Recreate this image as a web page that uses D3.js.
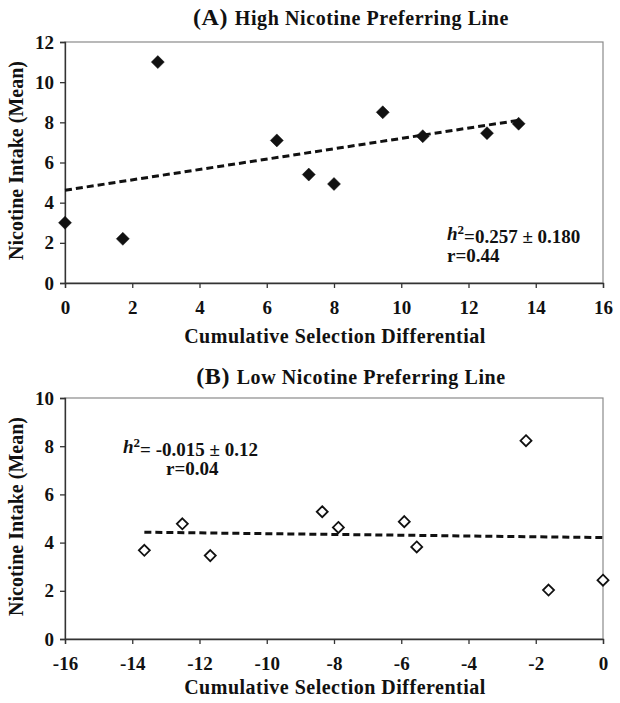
<!DOCTYPE html>
<html>
<head>
<meta charset="utf-8">
<script src="https://cdn.jsdelivr.net/npm/d3@7"></script>
<style>
  body { margin: 0; background: #fff; }
  svg text { font-family: "Liberation Serif", "Times New Roman", serif; font-weight: bold; fill: #111; }
</style>
</head>
<body>
<div id="chart"></div>
<script>
// panel A: high nicotine preferring line
const highX = [0, 1.72, 2.76, 6.3, 7.25, 8.0, 9.45, 10.64, 12.55, 13.49];
const highY = [3.0, 2.2, 11.0, 7.1, 5.4, 4.93, 8.5, 7.31, 7.46, 7.93];
const highTrendX = [0, 13.49];
const highTrendY = [4.62, 8.1];
const highXTicks = [0, 2, 4, 6, 8, 10, 12, 14, 16];
const highYTicks = [0, 2, 4, 6, 8, 10, 12];

// panel B: low nicotine preferring line
const lowX = [-13.64, -12.51, -11.68, -8.35, -7.87, -5.91, -5.54, -2.29, -1.62, 0];
const lowY = [3.68, 4.78, 3.46, 5.28, 4.63, 4.87, 3.82, 8.23, 2.03, 2.44];
const lowTrendX = [-13.64, 0];
const lowTrendY = [4.43, 4.21];
const lowXTicks = [-16, -14, -12, -10, -8, -6, -4, -2, 0];
const lowYTicks = [0, 2, 4, 6, 8, 10];

const W = 620, H = 703;

const svg = d3.select("#chart").append("svg")
  .attr("width", W)
  .attr("height", H);

const diamond = r => "M0," + (-r) + "L" + r + ",0L0," + r + "L" + (-r) + ",0Z";

function drawPanel(p) {
  var x = d3.scaleLinear().domain(p.xDomain).range([65, 603]);
  var y = d3.scaleLinear().domain(p.yDomain).range([p.bottom, p.top]);

  var g = svg.append("g");

  // plot area border
  g.append("rect")
    .attr("x", x.range()[0]).attr("y", p.top)
    .attr("width", x.range()[1] - x.range()[0])
    .attr("height", p.bottom - p.top)
    .attr("fill", "none").attr("stroke", "#8a8a8a").attr("stroke-width", 1.2);

  var xAxis = g.append("g")
    .attr("transform", "translate(0," + p.bottom + ")")
    .call(d3.axisBottom(x).tickValues(p.xTicks).tickSize(5).tickPadding(8).tickFormat(d3.format("d")));
  var yAxis = g.append("g")
    .attr("transform", "translate(" + x.range()[0] + ",0)")
    .call(d3.axisLeft(y).tickValues(p.yTicks).tickSize(5).tickPadding(6).tickFormat(d3.format("d")));

  [xAxis, yAxis].forEach(a => {
    a.select(".domain").attr("stroke", "#333").attr("stroke-width", 1.3);
    a.selectAll(".tick line").attr("stroke", "#333").attr("stroke-width", 1.3);
    a.selectAll("text").style("font-size", "19px").attr("fill", "#111")
      .style("font-family", "'Liberation Serif', 'Times New Roman', serif").style("font-weight", "bold");
  });
  xAxis.selectAll("text").attr("dy", "0.95em");
  // the "-" of negative ticks is a plain hyphen in the original
  xAxis.selectAll("text").text(d => String(d));

  // trend line
  var trend = p.trendX.map((v, i) => [v, p.trendY[i]]);
  g.append("path")
    .datum(trend)
    .attr("d", d3.line().x(d => x(d[0])).y(d => y(d[1])))
    .attr("stroke", "#111").attr("stroke-width", 3)
    .attr("stroke-dasharray", "7,4").attr("fill", "none");

  // points
  g.selectAll("path.pt")
    .data(p.xs.map((v, i) => [v, p.ys[i]]))
    .enter().append("path")
      .attr("class", "pt")
      .attr("transform", d => "translate(" + x(d[0]) + "," + y(d[1]) + ")")
      .attr("d", p.filled ? diamond(6.5) : diamond(5.5))
      .attr("fill", p.filled ? "#111" : "#fff")
      .attr("stroke", "#111")
      .attr("stroke-width", p.filled ? 0.5 : 1.8);

  // title
  var t = g.append("text")
    .attr("x", 351).attr("y", p.titleY)
    .attr("text-anchor", "middle")
    .style("letter-spacing", "0.6px");
  t.append("tspan").text(p.tag).style("font-size", "24px");
  t.append("tspan").text(p.title).style("font-size", "20px");

  // axis titles
  g.append("text")
    .attr("x", 335).attr("y", p.xLabelY)
    .attr("text-anchor", "middle")
    .style("font-size", "20px")
    .style("letter-spacing", "0.5px")
    .text("Cumulative Selection Differential");

  g.append("text")
    .attr("transform", "translate(23," + ((p.top + p.bottom) / 2 - 2) + ")rotate(-90)")
    .attr("text-anchor", "middle")
    .style("font-size", "20px")
    .text("Nicotine Intake (Mean)");

  // stats note
  var n1 = g.append("text")
    .attr("x", p.noteX).attr("y", p.noteY)
    .style("font-size", "19px");
  n1.append("tspan").text("h").style("font-style", "italic");
  n1.append("tspan").text("2").attr("dy", "-0.5em").style("font-size", "13px");
  n1.append("tspan").text(p.note1).attr("dy", "0.5em");

  g.append("text")
    .attr("x", p.note2X).attr("y", p.noteY + 22)
    .style("font-size", "19px")
    .text(p.note2);
}

drawPanel({
  xs: highX, ys: highY, trendX: highTrendX, trendY: highTrendY,
  xTicks: highXTicks, yTicks: highYTicks,
  xDomain: [0, 16], yDomain: [0, 12],
  top: 42, bottom: 283, filled: true,
  tag: "(A) ", title: "High Nicotine Preferring Line", titleY: 25,
  xLabelY: 343,
  noteX: 447, noteY: 240, note1: "=0.257 \u00b1 0.180", note2X: 447, note2: "r=0.44"
});

drawPanel({
  xs: lowX, ys: lowY, trendX: lowTrendX, trendY: lowTrendY,
  xTicks: lowXTicks, yTicks: lowYTicks,
  xDomain: [-16, 0], yDomain: [0, 10],
  top: 398, bottom: 639, filled: false,
  tag: "(B) ", title: " Low Nicotine Preferring Line", titleY: 384,
  xLabelY: 694,
  noteX: 123, noteY: 453, note1: "= -0.015 \u00b1 0.12", note2X: 166, note2: "r=0.04"
});
</script>
</body>
</html>
